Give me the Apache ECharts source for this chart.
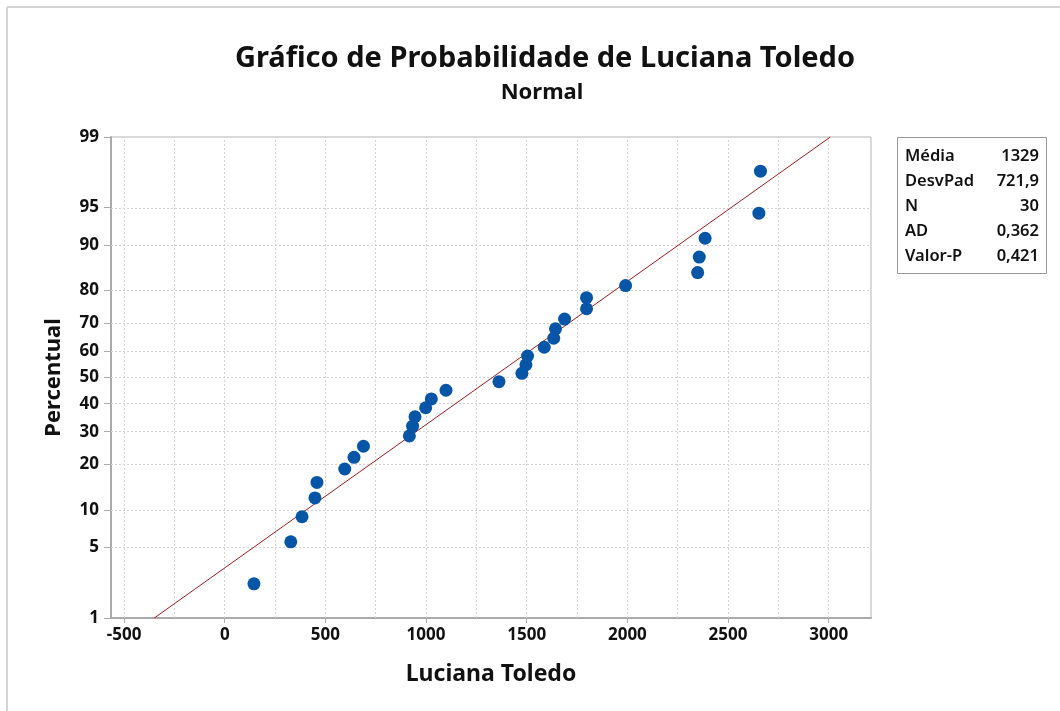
<!DOCTYPE html>
<html>
<head>
<meta charset="utf-8">
<script src="https://cdn.jsdelivr.net/npm/echarts@6/dist/echarts.min.js"></script>
<style>
  html, body { margin: 0; padding: 0; background: #fff; }
  #chart { width: 1060px; height: 711px; }
</style>
</head>
<body>
<div id="chart"></div>
<script>
// data
var values = [145, 328, 384, 448, 458, 596, 642, 689, 917, 933,
              945, 998, 1026, 1099, 1362, 1476, 1496, 1504, 1587, 1634,
              1643, 1688, 1797, 1797, 1991, 2349, 2357, 2386, 2653, 2661];
var percents = [2.3, 5.6, 8.9, 12.2, 15.5, 18.8, 22.0, 25.3, 28.6, 31.9,
                35.2, 38.5, 41.8, 45.1, 48.4, 51.6, 54.9, 58.2, 61.5, 64.8,
                68.1, 71.4, 74.7, 78.0, 81.3, 84.5, 87.8, 91.1, 94.4, 97.7];
var fitX = [-350, 3008];
var fitP = [1, 99];
var yTicks = [1, 5, 10, 20, 30, 40, 50, 60, 70, 80, 90, 95, 99];
var xTicks = [-500, 0, 500, 1000, 1500, 2000, 2500, 3000];
var xGrid = [-500, -250, 0, 250, 500, 750, 1000, 1250, 1500, 1750, 2000, 2250, 2500, 2750, 3000];
var statLabels = ['Média', 'DesvPad', 'N', 'AD', 'Valor-P'];
var statValues = ['1329', '721,9', '30', '0,362', '0,421'];

// inverse normal cdf (Acklam), used as the probability scale
function probit(p) {
  var a = [-3.969683028665376e+01, 2.209460984245205e+02, -2.759285104469687e+02, 1.383577518672690e+02, -3.066479806614716e+01, 2.506628277459239e+00];
  var b = [-5.447609879822406e+01, 1.615858368580409e+02, -1.556989798598866e+02, 6.680131188771972e+01, -1.328068155288572e+01];
  var c = [-7.784894002430293e-03, -3.223964580411365e-01, -2.400758277161838e+00, -2.549732539343734e+00, 4.374664141464968e+00, 2.938163982698783e+00];
  var d = [7.784695709041462e-03, 3.224671290700398e-01, 2.445134137142996e+00, 3.754408661907416e+00];
  var pl = 0.02425, q, r;
  if (p < pl) {
    q = Math.sqrt(-2 * Math.log(p));
    return (((((c[0]*q+c[1])*q+c[2])*q+c[3])*q+c[4])*q+c[5]) / ((((d[0]*q+d[1])*q+d[2])*q+d[3])*q+1);
  } else if (p <= 1 - pl) {
    q = p - 0.5; r = q * q;
    return (((((a[0]*r+a[1])*r+a[2])*r+a[3])*r+a[4])*r+a[5])*q / (((((b[0]*r+b[1])*r+b[2])*r+b[3])*r+b[4])*r+1);
  } else {
    q = Math.sqrt(-2 * Math.log(1 - p));
    return -(((((c[0]*q+c[1])*q+c[2])*q+c[3])*q+c[4])*q+c[5]) / ((((d[0]*q+d[1])*q+d[2])*q+d[3])*q+1);
  }
}
function z(pct) { return probit(pct / 100); }

var yTickZ = yTicks.map(z);
var zMin = z(1), zMax = z(99);

var chart = echarts.init(document.getElementById('chart'));
var FONT = '"Noto Sans", "Open Sans", sans-serif';
var gridColor = '#d3d3d3';

var gridLines = [];
xGrid.forEach(function (v) { gridLines.push({ xAxis: v }); });
yTickZ.forEach(function (v, i) {
  if (i > 0 && i < yTickZ.length - 1) gridLines.push({ yAxis: v });
});

var statText = [];
statLabels.forEach(function (lab, i) {
  statText.push({
    type: 'text', left: 905, top: 148 + i * 25,
    style: { text: lab, font: '600 16.5px ' + FONT, fill: '#111' }
  });
  statText.push({
    type: 'text', right: 1060 - 1039, top: 148 + i * 25,
    style: { text: statValues[i], font: '600 16.5px ' + FONT, fill: '#111', textAlign: 'right' }
  });
});

var option = {
  animation: false,
  backgroundColor: '#fff',
  title: [
    { text: 'Gráfico de Probabilidade de Luciana Toledo', left: 540, top: 39, textAlign: 'center',
      textStyle: { fontFamily: FONT, fontSize: 29, fontWeight: 'bold', color: '#111' } },
    { text: 'Normal', left: 537, top: 77, textAlign: 'center',
      textStyle: { fontFamily: FONT, fontSize: 22, fontWeight: 'bold', color: '#111' } }
  ],
  grid: { left: 111, top: 137, width: 760, height: 481, show: true, borderColor: '#b5b5b5', borderWidth: 1 },
  xAxis: {
    type: 'value', min: -565, max: 3210,
    name: 'Luciana Toledo', nameLocation: 'middle', nameGap: 45,
    nameTextStyle: { fontFamily: FONT, fontSize: 23, fontWeight: 'bold', color: '#111' },
    axisLine: { show: true, onZero: false, lineStyle: { color: '#aaa', width: 2 } },
    axisTick: { show: true, length: 5, customValues: xTicks, lineStyle: { color: '#aaa' } },
    axisLabel: { customValues: xTicks, margin: 9, fontFamily: FONT, fontSize: 17, fontWeight: 'bold', color: '#111',
      formatter: function (v) { return String(v); } },
    splitLine: { show: false }
  },
  yAxis: {
    type: 'value', min: zMin, max: zMax,
    name: 'Percentual', nameLocation: 'middle', nameGap: 46, nameRotate: 90,
    nameTextStyle: { fontFamily: FONT, fontSize: 22, fontWeight: 'bold', color: '#111' },
    axisLine: { show: true, onZero: false, lineStyle: { color: '#aaa', width: 2 } },
    axisTick: { show: true, length: 7, customValues: yTickZ, lineStyle: { color: '#aaa' } },
    axisLabel: {
      customValues: yTickZ, margin: 12, fontFamily: FONT, fontSize: 17, fontWeight: 'bold', color: '#111',
      formatter: function (v) {
        var best = 0;
        yTickZ.forEach(function (t, i) { if (Math.abs(t - v) < Math.abs(yTickZ[best] - v)) best = i; });
        return String(yTicks[best]);
      }
    },
    splitLine: { show: false }
  },
  series: [
    {
      type: 'line', data: [], silent: true, z: 1,
      markLine: {
        silent: true, symbol: 'none', label: { show: false }, z: 1,
        lineStyle: { color: gridColor, type: [2, 2], width: 1 },
        data: gridLines
      }
    },
    {
      type: 'line', silent: true, symbol: 'none', z: 3,
      lineStyle: { color: '#9e1c1c', width: 1 },
      data: fitX.map(function (x, i) { return [x, z(fitP[i])]; })
    },
    {
      type: 'scatter', symbolSize: 13, z: 4,
      itemStyle: { color: '#0655a6', opacity: 1 },
      data: values.map(function (x, i) { return [x, z(percents[i])]; })
    }
  ],
  graphic: [
    { type: 'line', shape: { x1: 7, y1: 7, x2: 1060, y2: 7 }, style: { stroke: '#d4d4d4', lineWidth: 2 } },
    { type: 'line', shape: { x1: 7, y1: 7, x2: 7, y2: 711 }, style: { stroke: '#d4d4d4', lineWidth: 2 } },
    { type: 'rect', shape: { x: 897.5, y: 137.5, width: 149, height: 136 }, style: { fill: '#fff', stroke: '#999', lineWidth: 1 } }
  ].concat(statText)
};
chart.setOption(option);
</script>
</body>
</html>
